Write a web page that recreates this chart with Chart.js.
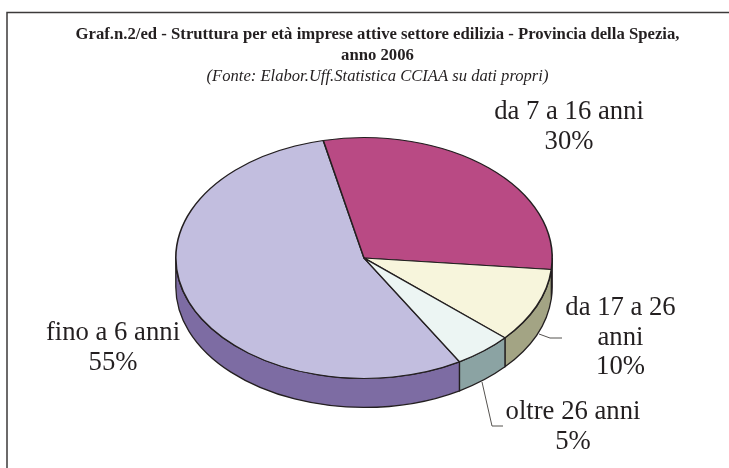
<!DOCTYPE html>
<html>
<head>
<meta charset="utf-8">
<style>
html, body { margin: 0; padding: 0; background: #fff; }
canvas { display: block; }
</style>
<script src="https://cdn.jsdelivr.net/npm/chart.js@4"></script>
</head>
<body>
<canvas id="pieChart" width="729" height="468"></canvas>
<script>
const categories = ['fino a 6 anni', 'da 7 a 16 anni', 'da 17 a 26 anni', 'oltre 26 anni'];
const percentages = [55, 30, 10, 5];
const topColors = ['#c2bedf', '#b94a84', '#f7f5dc', '#ecf5f3'];
const wallColors = ['#7d6ca3', '#8a3560', '#a3a484', '#8ba3a3'];
const titleLines = ['Graf.n.2/ed - Struttura per età imprese attive settore edilizia - Provincia della Spezia,', 'anno 2006'];
const subtitleLine = '(Fonte: Elabor.Uff.Statistica CCIAA su dati propri)';

const INK = '#231f20';
const SQUASH = 0.64;
const CENTER_X = 364;
const CENTER_Y = 258;
const DEPTH = 29;

// etichette: righe di testo con la posizione del centro
const labels = [
    { lines: ['fino a 6 anni', '55%'], x: 113, y: 333 },
    { lines: ['da 7 a 16 anni', '30%'], x: 569, y: 112 },
    { lines: ['da 17 a 26', 'anni', '10%'], x: 620.5, y: 308 },
    { lines: ['oltre 26 anni', '5%'], x: 573, y: 412 }
];

// muro laterale sotto la torta, poi cornice ed etichette sopra
const pie3d = {
    id: 'pie3d',
    beforeDatasetsDraw(chart) {
        const ctx = chart.ctx;
        ctx.save();
        ctx.strokeStyle = INK;
        ctx.lineWidth = 1.3;
        chart.getDatasetMeta(0).data.forEach((arc, i) => {
            const rx = arc.outerRadius;
            const ry = rx * SQUASH;
            const a = normalize(arc.startAngle);
            const b = a + (arc.endAngle - arc.startAngle);
            // solo la parte rivolta verso chi guarda (da 0 a PI)
            const ranges = [[a, b], [a - Math.PI * 2, b - Math.PI * 2]];
            ranges.forEach(([s, e]) => {
                const from = Math.max(s, 0);
                const to = Math.min(e, Math.PI);
                if (to <= from) return;
                ctx.beginPath();
                ctx.ellipse(CENTER_X, CENTER_Y, rx, ry, 0, from, to);
                ctx.ellipse(CENTER_X, CENTER_Y + DEPTH, rx, ry, 0, to, from, true);
                ctx.closePath();
                ctx.fillStyle = wallColors[i];
                ctx.fill();
                ctx.stroke();
            });
        });
        ctx.restore();
        const arc0 = chart.getDatasetMeta(0).data[0];
        ctx.save();
        ctx.translate(CENTER_X, CENTER_Y);
        ctx.scale(1, SQUASH);
        ctx.translate(-arc0.x, -arc0.y);
    },
    afterDatasetsDraw(chart) {
        const ctx = chart.ctx;
        ctx.restore();
        ctx.save();
        ctx.strokeStyle = '#3c3a3a';
        ctx.lineWidth = 1.5;
        ctx.beginPath();
        ctx.moveTo(7, 468);
        ctx.lineTo(7, 12.5);
        ctx.lineTo(729, 12.5);
        ctx.stroke();
        // linee guida delle etichette
        ctx.strokeStyle = '#55524f';
        ctx.lineWidth = 1;
        ctx.beginPath();
        ctx.moveTo(539, 334);
        ctx.lineTo(550, 338);
        ctx.lineTo(562, 338);
        ctx.moveTo(482, 382);
        ctx.lineTo(492, 426);
        ctx.lineTo(503, 426);
        ctx.stroke();
        // etichette
        ctx.fillStyle = INK;
        ctx.font = '26.7px "Liberation Serif"';
        ctx.textAlign = 'center';
        ctx.textBaseline = 'middle';
        labels.forEach(l => {
            l.lines.forEach((t, i) => ctx.fillText(t, l.x, l.y + i * 29.6));
        });
        ctx.restore();
    }
};

function normalize(angle) {
    const full = Math.PI * 2;
    return ((angle % full) + full) % full;
}

new Chart(document.getElementById('pieChart').getContext('2d'), {
    type: 'pie',
    data: {
        labels: categories,
        datasets: [{
            data: percentages,
            backgroundColor: topColors,
            borderColor: INK,
            borderWidth: 1.6
        }]
    },
    options: {
        responsive: false,
        animation: false,
        rotation: 149.5,
        layout: { padding: { left: 30, right: 4, top: 24.5, bottom: 2.5 } },
        plugins: {
            legend: { display: false },
            tooltip: { enabled: false },
            title: {
                display: true,
                text: titleLines,
                color: INK,
                font: { family: '"Liberation Serif"', size: 16.7, weight: 'bold', lineHeight: 1.26 },
                padding: { top: 0, bottom: 0 }
            },
            subtitle: {
                display: true,
                text: subtitleLine,
                color: INK,
                font: { family: '"Liberation Serif"', size: 16.6, style: 'italic', lineHeight: 1.26 },
                padding: { top: 0, bottom: 0 }
            }
        }
    },
    plugins: [pie3d]
});
</script>
</body>
</html>
